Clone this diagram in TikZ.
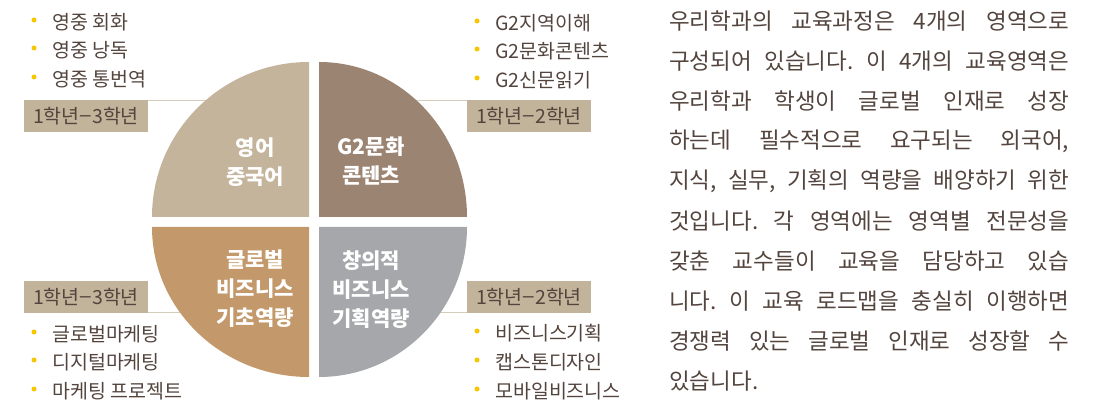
\documentclass[tikz,border=0pt]{standalone}
\usepackage{fontspec}
\setmainfont{Noto Sans CJK KR}
\frenchspacing
\definecolor{qtl}{HTML}{C4B49C}
\definecolor{qtr}{HTML}{9C8472}
\definecolor{qbl}{HTML}{C3986A}
\definecolor{qbr}{HTML}{A6A7AB}
\definecolor{boxc}{HTML}{C2B39B}
\definecolor{linec}{HTML}{D6CCBD}
\definecolor{txt}{HTML}{53443D}
\definecolor{dotc}{HTML}{F7C600}
\newcommand{\yrdash}{\scalebox{1.15}[1]{−}}
\begin{document}
\begin{tikzpicture}[x=1pt,y=-1pt,
  qlabel/.style={font=\fontsize{21}{29}\selectfont\bfseries, text=white, align=center, inner sep=0},
  yearbox/.style={fill=boxc, minimum width=124pt, minimum height=32pt, inner sep=0, text=txt, font=\fontsize{19.5}{20}\selectfont},
  listitem/.style={anchor=west, inner sep=0, text=txt, font=\fontsize{19.5}{20}\selectfont},
  bulletdot/.style={circle, fill=dotc, minimum size=5pt, inner sep=0},
  paraline/.style={anchor=west, inner sep=0, text=txt, font=\fontsize{22.5}{24}\selectfont},
  conn/.style={draw=linec, line width=1.6pt}]
\useasboundingbox (0,0) rectangle (1106,403);
% quadrant corners
\coordinate (cTL) at (309,217);
\coordinate (cTR) at (319,217);
\coordinate (cBL) at (309,227);
\coordinate (cBR) at (319,227);
% year boxes
\node[yearbox] (yTL) at (86,116) {1학년\yrdash 3학년};
\node[yearbox] (yTR) at (529,116) {1학년\yrdash 2학년};
\node[yearbox] (yBL) at (86,297) {1학년\yrdash 3학년};
\node[yearbox] (yBR) at (529,297) {1학년\yrdash 2학년};
% connectors
\draw[conn] ([yshift=-0.8pt]yTL.north east) -- ([yshift=-0.8pt]yTL.north east -| cTL);
\draw[conn] ([yshift=-0.8pt]yTR.north west) -- ([yshift=-0.8pt]yTR.north west -| cTR);
\draw[conn] ([yshift=0.8pt]yBL.south east) -- ([yshift=0.8pt]yBL.south east -| cBL);
\draw[conn] ([yshift=0.8pt]yBR.south west) -- ([yshift=0.8pt]yBR.south west -| cBR);
% quadrants
\fill[qtl] (cTL) -- ++(-157,0) arc[start angle=180,end angle=90,x radius=157pt,y radius=155pt] -- cycle;
\fill[qtr] (cTR) -- ++(148,0) arc[start angle=0,end angle=90,x radius=148pt,y radius=155pt] -- cycle;
\fill[qbl] (cBL) -- ++(-157,0) arc[start angle=180,end angle=270,x radius=157pt,y radius=150pt] -- cycle;
\fill[qbr] (cBR) -- ++(148,0) arc[start angle=0,end angle=-90,x radius=148pt,y radius=150pt] -- cycle;
% quadrant labels
\node[qlabel] (lTL) at (255,162) {영어\\중국어};
\node[qlabel] (lTR) at (371,161) {G2문화\\콘텐츠};
\node[qlabel] (lBL) at (255,289) {글로벌\\비즈니스\\기초역량};
\node[qlabel] (lBR) at (371,290) {창의적\\비즈니스\\기획역량};
% lists top-left
\node[bulletdot] (d1) at (34,20) {}; \node[listitem] (t1) at (52,22) {영중 회화};
\node[bulletdot] (d2) at (34,48) {}; \node[listitem] (t2) at (52,50) {영중 낭독};
\node[bulletdot] (d3) at (34,77) {}; \node[listitem] (t3) at (52,79) {영중 통번역};
% top-right
\node[bulletdot] (d4) at (477,21) {}; \node[listitem] (t4) at (495,23) {G2지역이해};
\node[bulletdot] (d5) at (477,49) {}; \node[listitem] (t5) at (495,51) {G2문화콘텐츠};
\node[bulletdot] (d6) at (477,78) {}; \node[listitem] (t6) at (495,80) {G2신문읽기};
% bottom-left
\node[bulletdot] (d7) at (34,332) {}; \node[listitem] (t7) at (52,334) {글로벌마케팅};
\node[bulletdot] (d8) at (34,360) {}; \node[listitem] (t8) at (52,362) {디지털마케팅};
\node[bulletdot] (d9) at (34,389) {}; \node[listitem] (t9) at (52,391) {마케팅 프로젝트};
% bottom-right
\node[bulletdot] (d10) at (477,331) {}; \node[listitem] (t10) at (495,333) {비즈니스기획};
\node[bulletdot] (d11) at (477,360) {}; \node[listitem] (t11) at (495,362) {캡스톤디자인};
\node[bulletdot] (d12) at (477,389) {}; \node[listitem] (t12) at (495,391) {모바일비즈니스};
% paragraph
\node[paraline] (p1) at (669,21) {\makebox[400pt][s]{우리학과의 교육과정은 4개의 영역으로}};
\node[paraline] (p2) at (669,61) {\makebox[400pt][s]{구성되어 있습니다. 이 4개의 교육영역은}};
\node[paraline] (p3) at (669,101) {\makebox[400pt][s]{우리학과 학생이 글로벌 인재로 성장}};
\node[paraline] (p4) at (669,141) {\makebox[400pt][s]{하는데 필수적으로 요구되는 외국어,}};
\node[paraline] (p5) at (669,181) {\makebox[400pt][s]{지식, 실무, 기획의 역량을 배양하기 위한}};
\node[paraline] (p6) at (669,221) {\makebox[400pt][s]{것입니다. 각 영역에는 영역별 전문성을}};
\node[paraline] (p7) at (669,261) {\makebox[400pt][s]{갖춘 교수들이 교육을 담당하고 있습}};
\node[paraline] (p8) at (669,301) {\makebox[400pt][s]{니다. 이 교육 로드맵을 충실히 이행하면}};
\node[paraline] (p9) at (669,341) {\makebox[400pt][s]{경쟁력 있는 글로벌 인재로 성장할 수}};
\node[paraline] (p10) at (669,381) {있습니다.};
\end{tikzpicture}
\end{document}
